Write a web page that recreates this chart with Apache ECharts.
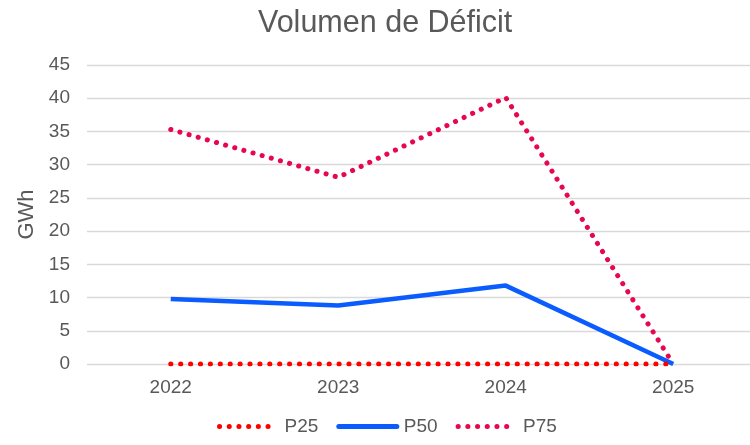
<!DOCTYPE html>
<html>
<head>
<meta charset="utf-8">
<script src="https://cdn.jsdelivr.net/npm/echarts@6/dist/echarts.min.js"></script>
<style>
  html, body { margin: 0; padding: 0; background: #fff; overflow: hidden; }
  #chart { width: 757px; height: 445px; }
</style>
</head>
<body>
<div id="chart"></div>
<script>
// datos
var years = ['2022', '2023', '2024', '2025'];
var p25 = [0, 0, 0, 0];
var p50 = [9.8, 8.8, 11.8, 0];
var p75 = [35.3, 28.1, 40.1, 0];

var font = 'Liberation Sans, Arial, sans-serif';
var grey = '#595959';
var cRed = '#ff0000', cBlue = '#0a5cff', cPink = '#e8064f';

var chart = echarts.init(document.getElementById('chart'));
chart.setOption({
    animation: false,
    textStyle: { fontFamily: font },
    title: {
        text: 'Volumen de Déficit',
        left: 253,
        top: 3,
        textStyle: { fontFamily: font, fontSize: 30.5, fontWeight: 'normal', color: grey }
    },
    legend: {
        bottom: 4,
        left: 212,
        itemWidth: 58,
        itemHeight: 12,
        itemGap: 18,
        itemStyle: { opacity: 0 },
        textStyle: { fontFamily: font, fontSize: 19, color: grey, padding: [0, 0, 0, 2] },
        data: [
            { name: 'P25', lineStyle: { color: cRed, width: 5, type: [0.1, 9.6], cap: 'round' } },
            { name: 'P50', lineStyle: { color: cBlue, width: 5, cap: 'round' } },
            { name: 'P75', lineStyle: { color: cPink, width: 5, type: [0.1, 9.6], cap: 'round' } }
        ]
    },
    grid: { left: 87, top: 65, right: 0, bottom: 81 },
    xAxis: {
        type: 'category',
        data: years,
        axisLine: { show: false },
        axisTick: { show: false },
        axisLabel: { fontFamily: font, fontSize: 19, color: grey, margin: 14 }
    },
    yAxis: {
        type: 'value',
        min: 0,
        max: 45,
        interval: 5,
        name: 'GWh',
        nameLocation: 'middle',
        nameGap: 47,
        nameTextStyle: { fontFamily: font, fontSize: 22, color: grey },
        axisLabel: { fontFamily: font, fontSize: 19, color: grey, margin: 17 },
        splitLine: { lineStyle: { color: '#d9d9d9', width: 1.3 } }
    },
    series: [{
        name: 'P25',
        type: 'line',
        data: p25,
        showSymbol: false,
        symbol: 'none',
        itemStyle: { color: cRed },
        lineStyle: { color: cRed, width: 5, type: [0.1, 9.8], cap: 'round' },
        z: 3
    }, {
        name: 'P50',
        type: 'line',
        data: p50,
        showSymbol: false,
        symbol: 'none',
        itemStyle: { color: cBlue },
        lineStyle: { color: cBlue, width: 4.5 },
        z: 2
    }, {
        name: 'P75',
        type: 'line',
        data: p75,
        showSymbol: false,
        symbol: 'none',
        itemStyle: { color: cPink },
        lineStyle: { color: cPink, width: 5, type: [0.1, 9.4], cap: 'round' },
        z: 4
    }]
});
</script>
</body>
</html>
